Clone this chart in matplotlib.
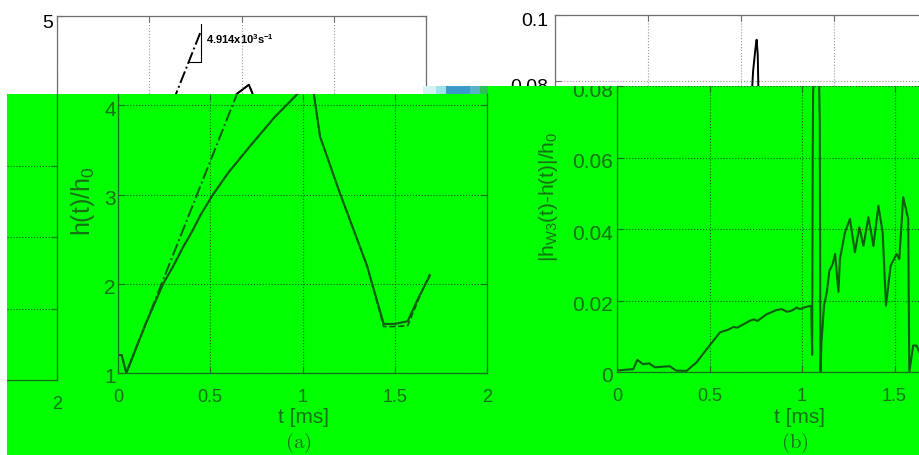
import matplotlib
matplotlib.use('Agg')
import matplotlib.pyplot as plt
from matplotlib.patches import Polygon, Rectangle
from matplotlib.transforms import Bbox, TransformedBbox, ScaledTranslation

W, H = 919, 456

# (a) film thickness h(t)/h0
t_h = [0.0, 0.02, 0.045, 0.07, 0.1, 0.15, 0.2, 0.245, 0.3, 0.35, 0.4, 0.45,
       0.515, 0.6, 0.715, 0.85, 0.97, 1.04, 1.062, 1.095, 1.2, 1.35, 1.44,
       1.5, 1.57, 1.63, 1.69]
h_sim = [1.2, 1.2, 1.0, 1.13, 1.29, 1.55, 1.79, 2.0, 2.2, 2.4, 2.58, 2.78,
         3.0, 3.25, 3.54, 3.87, 4.12, 4.23, 4.12, 3.65, 3.03, 2.2, 1.55,
         1.55, 1.58, 1.85, 2.09]
h_w3 = [1.2, 1.2, 1.0, 1.13, 1.29, 1.55, 1.79, 2.0, 2.2, 2.4, 2.58, 2.78,
        3.0, 3.25, 3.54, 3.87, 4.12, 4.23, 4.12, 3.65, 3.03, 2.2, 1.52,
        1.52, 1.53, 1.83, 2.11]
# initial growth rate line
fit_t = [0.05, 0.78]
fit_h = [1.03, 4.83]
slope_tri_t = [0.715, 0.78, 0.78]
slope_tri_h = [4.485, 4.485, 4.91]
slope_label = r'4.914x10$^\mathbf{3}$s$^\mathbf{-1}$'

# (b) difference |h_W3 - h| / h0
t_err = [0.0, 0.04, 0.088, 0.11, 0.14, 0.175, 0.205, 0.25, 0.285, 0.32, 0.376,
         0.43, 0.5, 0.557, 0.6, 0.63, 0.65, 0.7, 0.72, 0.74, 0.76, 0.81, 0.83,
         0.86, 0.89, 0.92, 0.95, 0.97, 0.99, 1.02, 1.05, 1.055, 1.058, 1.06,
         1.065, 1.078, 1.084, 1.09, 1.096, 1.10, 1.105, 1.119, 1.134, 1.148,
         1.166, 1.179, 1.197, 1.205, 1.232, 1.259, 1.286, 1.31, 1.332, 1.359,
         1.386, 1.413, 1.436, 1.454, 1.479, 1.511, 1.526, 1.547, 1.574, 1.58,
         1.601, 1.619, 1.64, 1.69]
e_err = [0.0004, 0.0006, 0.0008, 0.0034, 0.0022, 0.0024, 0.0013, 0.0015, 0.0016,
         0.0004, 0.0003, 0.0027, 0.0074, 0.0111, 0.0118, 0.0126, 0.0124, 0.0138,
         0.0144, 0.0147, 0.0143, 0.0162, 0.0166, 0.0173, 0.0176, 0.0168, 0.0173,
         0.018, 0.0176, 0.0182, 0.0185, 0.0048, 0.06, 0.078, 0.083, 0.09,
         0.0925, 0.088, 0.07, 0.0, 0.008, 0.0186, 0.0223, 0.0283, 0.0302,
         0.033, 0.0224, 0.0316, 0.039, 0.0428, 0.0335, 0.0405, 0.0353, 0.0433,
         0.0353, 0.0465, 0.039, 0.0186, 0.0297, 0.033, 0.0316, 0.0489, 0.0428,
         0.0, 0.0074, 0.0074, 0.005, 0.004]

x_ticks = [0, 0.5, 1, 1.5, 2]
x_labels = ['0', '0.5', '1', '1.5', '2']
err_ticks = [0, 0.02, 0.04, 0.06, 0.08, 0.1]
err_labels = ['0', '0.02', '0.04', '0.06', '0.08', '0.1']

plt.rcParams['font.family'] = ['Liberation Sans', 'DejaVu Sans']
plt.rcParams['mathtext.fontset'] = 'custom'
plt.rcParams['mathtext.rm'] = 'Liberation Sans'
plt.rcParams['mathtext.it'] = 'Liberation Sans:italic'
plt.rcParams['mathtext.bf'] = 'Liberation Sans:bold'

fig = plt.figure(figsize=(W / 100, H / 100), dpi=100)
fig.patch.set_facecolor('white')

GREEN = '#00ff00'
DARK = '#0d5c0d'
TXT = '#177017'


def px_axes(x0, x1, y0, y1, z):
    return fig.add_axes([x0 / W, 1 - y1 / H, (x1 - x0) / W, (y1 - y0) / H], zorder=z)


def matlab_style(ax, col, gridcol, xsize, ysize, ypad):
    ax.tick_params(direction='in', length=4, width=0.8, colors=col,
                   top=True, right=True)
    ax.tick_params(axis='x', pad=11, labelsize=xsize)
    ax.tick_params(axis='y', pad=ypad, labelsize=ysize)
    for sp in ax.spines.values():
        sp.set_color(col)
        sp.set_linewidth(0.9)
    ax.grid(True, linestyle=':', color=gridcol, linewidth=0.8)


def shift_ylabels(ax, dy_px):
    off = ScaledTranslation(0, -dy_px / 100, fig.dpi_scale_trans)
    for lab in ax.get_yticklabels():
        lab.set_transform(lab.get_transform() + off)


# ---- original figure (white, mostly hidden under the green block) ----
ul = px_axes(57, 426, 17, 374, 1)
ul.plot(t_h, h_sim, color='black', lw=1.4)
ul.plot(t_h, h_w3, color='black', lw=1.2, ls='--')
ul.plot(fit_t, fit_h, color='black', lw=1.4, ls='-.')
ul.plot(slope_tri_t, slope_tri_h, color='black', lw=0.8)
ul.text(0.81, 4.75, slope_label, fontsize=8, fontweight='bold', va='center')
ul.set_xlim(0, 2)
ul.set_ylim(1, 5)
ul.set_xticks(x_ticks)
ul.set_xticklabels([])
ul.set_yticks([1, 2, 3, 4, 5])
ul.set_yticklabels(['', '', '', '', '5'])
matlab_style(ul, '#6e6e6e', '#9a9a9a', 13, 14, 3)
ul.tick_params(labelcolor='black')
shift_ylabels(ul, 4)

ur = px_axes(555, 927, 16, 346, 1)
ur.plot(t_err, e_err, color='black', lw=1.4)
ur.set_xlim(0, 2)
ur.set_ylim(0, 0.1)
ur.set_xticks(x_ticks)
ur.set_xticklabels([])
ur.set_yticks(err_ticks)
ur.set_yticklabels(['', '', '', ''] + err_labels[4:])
matlab_style(ur, '#6e6e6e', '#9a9a9a', 13, 14, 5)
ur.tick_params(labelcolor='black')
shift_ylabels(ur, 4)

# ---- green overlay ----
bg = fig.add_axes([0, 0, 1, 1], zorder=5)
bg.set_xlim(0, W)
bg.set_ylim(H, 0)
bg.axis('off')
bg.patch.set_alpha(0)
bg.add_patch(Polygon([(7, 95), (488, 95), (488, 87), (W, 87), (W, H), (7, H)],
                     closed=True, facecolor=GREEN, edgecolor='none'))
strip = [(423, 436, '#d6f3f3'), (436, 446, '#9fe2ea'), (446, 470, '#3a9ac8'),
         (470, 480, '#5ab2c6'), (480, 488, '#2fbf5a')]
for xa, xb, c in strip:
    bg.add_patch(Rectangle((xa, 87), xb - xa, 8, facecolor=c, edgecolor='none'))

gl = px_axes(118, 487, 95, 374, 6)
gl.patch.set_alpha(0)
gl.plot(t_h, h_sim, color=DARK, lw=1.5)
gl.plot(t_h, h_w3, color=DARK, lw=1.2, ls='--')
gl.plot(fit_t, fit_h, color=DARK, lw=1.4, ls='-.')
gl.set_xlim(0, 2)
gl.set_ylim(1, 1 + (374 - 95) / 89.25)
gl.set_xticks(x_ticks)
gl.set_xticklabels(x_labels)
gl.set_yticks([1, 2, 3, 4])
matlab_style(gl, TXT, DARK, 13, 15, 1.5)
gl.spines['top'].set_visible(False)
shift_ylabels(gl, 2)

gr = px_axes(617, 987, 87, 373, 6)
gr.patch.set_alpha(0)
gr.plot(t_err, e_err, color=DARK, lw=1.5)
gr.set_xlim(0, 2)
gr.set_ylim(0, (373 - 87) / 3575)
gr.set_xticks(x_ticks)
gr.set_xticklabels(x_labels[:4] + [''])
gr.set_yticks(err_ticks[:5])
gr.set_yticklabels(err_labels[:5])
matlab_style(gr, TXT, DARK, 13, 15, 3)
gr.spines['top'].set_visible(False)
shift_ylabels(gr, 2)
clip = TransformedBbox(Bbox([[0, 0], [1, 1 - 87 / H]]), fig.transFigure)
for lab in gr.get_yticklabels():
    lab.set_clip_box(clip)
    lab.set_clip_on(True)

# wrapped piece of panel (b) at the left edge
gf = px_axes(7, 57, 95, 381, 6)
gf.patch.set_alpha(0)
gf.plot(t_err, e_err, color=DARK, lw=1.5)
gf.set_xlim(2 - 50 / 185, 2)
gf.set_ylim(0, (381 - 95) / 3575)
gf.set_xticks([2])
gf.set_xticklabels(['2'])
gf.set_yticks([0.02, 0.04, 0.06])
gf.set_yticklabels([])
matlab_style(gf, TXT, DARK, 13, 15, 3)
gf.spines['top'].set_visible(False)
gf.spines['left'].set_visible(False)
gf.tick_params(left=False, top=False)

fig.text(83 / W, 1 - 201 / H, r'h(t)/h$_0$', fontsize=18, color=TXT,
         rotation=90, ha='center', va='center', zorder=7)
fig.text(549 / W, 1 - 197 / H, r'|h$_\mathrm{W3}$(t)-h(t)|/h$_0$', fontsize=15,
         color=TXT, rotation=90, ha='center', va='center', zorder=7)
for xc, lab in [(303, '(a)'), (800, '(b)')]:
    fig.text(xc / W, 1 - 418 / H, 't [ms]', fontsize=15, color=TXT,
             ha='center', va='center', zorder=7)
    fig.text((xc - 5) / W, 1 - 443 / H, r'$\mathrm{' + lab + '}$', fontsize=15,
             color=TXT, ha='center', va='center', math_fontfamily='cm', zorder=7)

fig.savefig('out.png', dpi=100, facecolor='white')
